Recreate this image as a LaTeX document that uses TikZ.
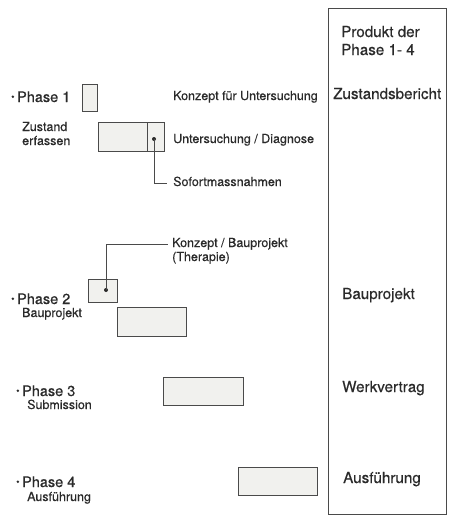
\documentclass[tikz,border=0pt]{standalone}
\usepackage{fontspec}
\setmainfont{TeX Gyre Heros}[FakeBold=0.45]
\usetikzlibrary{positioning}
\definecolor{ink}{HTML}{2A2A2A}
\definecolor{boxfill}{HTML}{F1F1EE}
\tikzset{
  lbl/.style={inner sep=0pt, anchor=base west, text=ink, font=\fontsize{12.5}{14}\selectfont},
  phase/.style={lbl, font=\fontsize{14.5}{16}\selectfont},
  prod/.style={lbl, font=\fontsize{15.2}{18}\selectfont},
  stepbox/.style={draw=ink!85, fill=boxfill, line width=0.7pt},
  dot/.style={circle, fill=ink, inner sep=0pt, minimum size=4pt},
  lead/.style={draw=ink!85, line width=0.7pt}
}
\newcommand{\blt}{\raisebox{1.8pt}{\fontsize{10}{10}\selectfont\textbullet}\,}

\begin{document}
\begin{tikzpicture}[x=1pt, y=-1pt]
        \useasboundingbox (0,0) rectangle (454,517);
        % Product column
        \node[draw=ink!85, line width=0.7pt, minimum width=118pt, minimum height=506pt,
              inner sep=0pt, anchor=north west] (prod) at (328,8) {};
        \node[prod] (head1) at (341,37) {Produkt der};
        \node[prod] (head2) at (341,55) {Phase 1- 4};
        \node[prod] (res1) at (333,99) {Zustandsbericht};
        \node[prod] (res2) at (342,299) {Bauprojekt};
        \node[prod] (res3) at (342,392) {Werkvertrag};
        \node[prod] (res4) at (343,483) {Ausführung};
        % Phase labels
        \node[phase] (ph1) at (11,102) {\blt Phase 1};
        \node[lbl] (ph1a) at (22,131) {Zustand};
        \node[lbl] (ph1b) at (22,145) {erfassen};
        \node[phase] (ph2) at (11,304) {\blt Phase 2};
        \node[lbl] (ph2a) at (22,317) {Bauprojekt};
        \node[phase] (ph3) at (16,396) {\blt Phase 3};
        \node[lbl] (ph3a) at (27,409) {Submission};
        \node[phase] (ph4) at (16,487) {\blt Phase 4};
        \node[lbl] (ph4a) at (27,501) {Ausführung};
        % Activity boxes
        \draw[stepbox] (82,84) rectangle (97,111);
        \draw[stepbox] (98,122) rectangle (164,151);
        \draw[ink!85, line width=0.7pt] (147,122) -- (147,151);
        \draw[stepbox] (88,279) rectangle (117,302);
        \draw[stepbox] (117,307) rectangle (186,336);
        \draw[stepbox] (163,377) rectangle (243,405);
        \draw[stepbox] (238,467) rectangle (317,495);
        % Activity labels
        \node[lbl] (konz1) at (173,100) {Konzept für Untersuchung};
        \node[lbl] (unter) at (173,143) {Untersuchung / Diagnose};
        \node[lbl] (sofort) at (173,186) {Sofortmassnahmen};
        \node[lbl] (konz2) at (172,247) {Konzept / Bauprojekt};
        \node[lbl] (thera) at (172,261) {(Therapie)};
        % Leaders
        \node[dot] (dot1) at (154,139) {};
        \node[dot] (dot2) at (106,290) {};
        \draw[lead] (dot1.center) |- ([xshift=-6pt]sofort.mid west);
        \draw[lead] (dot2.center) |- ([xshift=-4pt]konz2.mid west);
    \end{tikzpicture}
\end{document}
